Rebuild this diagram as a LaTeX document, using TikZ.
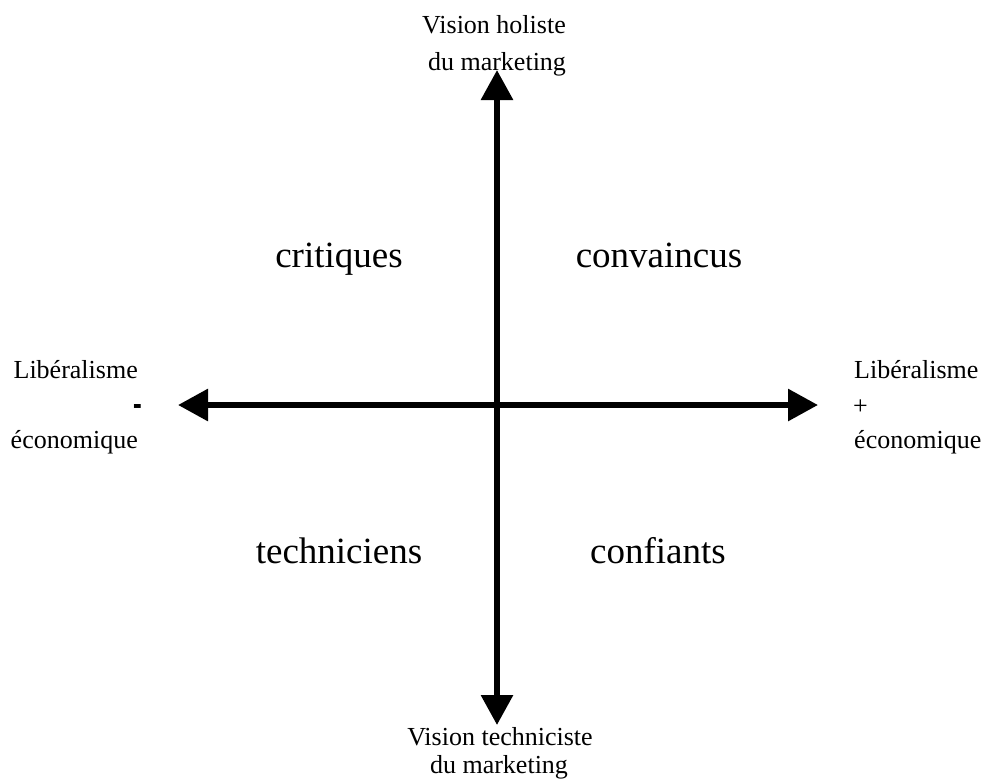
\documentclass[tikz,border=0pt]{standalone}
\usepackage{fontspec}
\setmainfont{Liberation Serif}
\usetikzlibrary{arrows.meta}
\begin{document}
\begin{tikzpicture}[x=1pt,y=-1pt,
  axislbl/.style={inner sep=0pt,font=\fontsize{26}{30}\selectfont},
  quadlbl/.style={inner sep=0pt,anchor=base,font=\fontsize{37}{42}\selectfont},
  axisline/.style={line width=6pt,{Triangle[length=30pt,width=31pt]}-{Triangle[length=30pt,width=31pt]}}]
\useasboundingbox (0,0) rectangle (987,780);
\coordinate (top) at (497,70);
\coordinate (bottom) at (497,725);
\coordinate (left) at (178,405);
\coordinate (right) at (818,405);
\draw[axisline] (bottom) -- (top);
\draw[axisline] (left) -- (right);
% top labels
\node[axislbl,anchor=base] (t1) at (494,33) {Vision holiste};
\node[axislbl,anchor=base] (t2) at (497,70) {du marketing};
% bottom labels
\node[axislbl,anchor=base] (b1) at (500,745) {Vision techniciste};
\node[axislbl,anchor=base] (b2) at (499,773) {du marketing};
% left labels
\node[axislbl,anchor=base east] (l1) at (138,378) {Libéralisme};
\node[axislbl,anchor=base east] (l2) at (142,417) {\scalebox{1}[1.8]{\textbf{-}}};
\node[axislbl,anchor=base east] (l3) at (138,448) {économique};
% right labels
\node[axislbl,anchor=base west] (r1) at (854,378) {Libéralisme};
\node[axislbl,anchor=base west] (r2) at (853,414) {+};
\node[axislbl,anchor=base west] (r3) at (854,448) {économique};
% quadrants
\node[quadlbl] (q1) at (339,267) {critiques};
\node[quadlbl] (q2) at (659,267) {convaincus};
\node[quadlbl] (q3) at (339,563) {techniciens};
\node[quadlbl] (q4) at (658,563) {confiants};
\end{tikzpicture}
\end{document}
